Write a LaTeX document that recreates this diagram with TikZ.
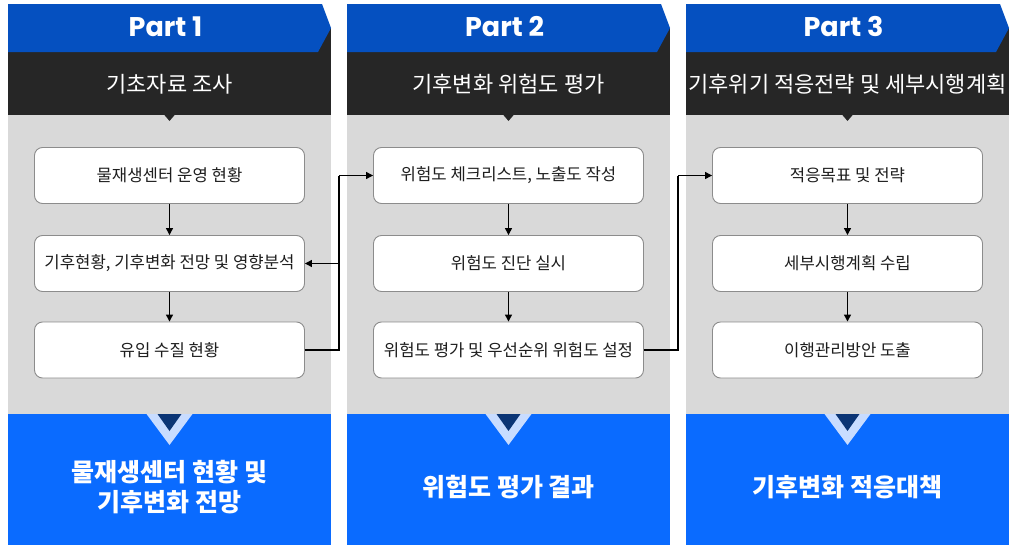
\documentclass[tikz,border=0pt]{standalone}
\usepackage{fontspec}
\setmainfont{Noto Sans CJK KR}
\newfontfamily\partfont{Poppins}
\usetikzlibrary{arrows.meta}
\definecolor{hdrblue}{HTML}{0550C0}
\definecolor{darkband}{HTML}{262626}
\definecolor{graybg}{HTML}{D9D9D9}
\definecolor{botblue}{HTML}{0A6BFF}
\definecolor{lightv}{HTML}{C8DCFF}
\definecolor{navy}{HTML}{0B3575}
\definecolor{boxline}{HTML}{8C8C8C}
\definecolor{txt}{HTML}{1E1E1E}
\tikzset{
  stepbox/.style={draw=boxline, line width=0.9pt, fill=white, rounded corners=8pt,
    minimum width=270pt, minimum height=56pt, inner sep=0pt, font=\fontsize{16.7}{20}\selectfont, text=txt},
  arr/.style={line width=1.2pt, -{Triangle[length=7pt,width=7pt]}},
  conn/.style={line width=1.2pt},
  parttxt/.style={text=white, font=\partfont\bfseries\fontsize{27}{30}\selectfont},
  bandtxt/.style={text=white, font=\fontsize{22}{26}\selectfont},
  bottxt/.style={text=white, font=\bfseries\fontsize{25}{30}\selectfont, align=center},
}
\begin{document}
\begin{tikzpicture}[x=1pt,y=-1pt]
\useasboundingbox (0,0) rectangle (1011,546);
\fill[white] (0,0) rectangle (1011,546);
\foreach \L/\n in {8/1,347/2,686/3}{
  \pgfmathsetmacro{\cx}{\L+161.5}
  \fill[darkband] (\L,28) rectangle ++(323,87);
  \fill[hdrblue] (\L,4) -- ++(314,0) -- ++(9,24) -- ++(-13,24) -- (\L,52) -- cycle;
  \fill[graybg] (\L,115) rectangle ++(323,299);
  \fill[darkband] (\cx-6,114) -- (\cx+6,114) -- (\cx,121) -- cycle;
  \fill[botblue] (\L,414) rectangle ++(323,131);
  \fill[lightv] (\cx-23,414) -- (\cx+23,414) -- (\cx,445) -- cycle;
  \fill[navy] (\cx-12,414) -- (\cx+12,414) -- (\cx,431) -- cycle;
  \node[parttxt] (p\n) at (\cx-4,27) {Part \n};
}
\node[bandtxt] (h1) at (169.5,84) {기초자료 조사};
\node[bandtxt] (h2) at (508.5,84) {기후변화 위험도 평가};
\node[bandtxt] (h3) at (847.5,84) {기후위기 적응전략 및 세부시행계획};

\node[stepbox] (b11) at (169.5,175.5) {물재생센터 운영 현황};
\node[stepbox] (b12) at (169.5,263.5) {기후현황, 기후변화 전망 및 영향분석};
\node[stepbox] (b13) at (169.5,350) {유입 수질 현황};
\node[stepbox] (b21) at (508.5,175.5) {위험도 체크리스트, 노출도 작성};
\node[stepbox] (b22) at (508.5,263.5) {위험도 진단 실시};
\node[stepbox] (b23) at (508.5,350) {위험도 평가 및 우선순위 위험도 설정};
\node[stepbox] (b31) at (847.5,175.5) {적응목표 및 전략};
\node[stepbox] (b32) at (847.5,263.5) {세부시행계획 수립};
\node[stepbox] (b33) at (847.5,350) {이행관리방안 도출};

\draw[arr] (b11) -- (b12);
\draw[arr] (b12) -- (b13);
\draw[arr] (b21) -- (b22);
\draw[arr] (b22) -- (b23);
\draw[arr] (b31) -- (b32);
\draw[arr] (b32) -- (b33);

\coordinate (j1) at (339,0);
\coordinate (j2) at (678,0);
\draw[conn] (b13.east) -- (j1 |- b13.east) -- (j1 |- b21.west);
\draw[arr] (j1 |- b21.west) -- (b21.west);
\draw[arr] (j1 |- b12.east) -- (b12.east);
\draw[conn] (b23.east) -- (j2 |- b23.east) -- (j2 |- b31.west);
\draw[arr] (j2 |- b31.west) -- (b31.west);

\node[bottxt] (r1) at (169.5,487) {물재생센터 현황 및\\기후변화 전망};
\node[bottxt] (r2) at (508.5,487) {위험도 평가 결과};
\node[bottxt] (r3) at (847.5,487) {기후변화 적응대책};
\end{tikzpicture}
\end{document}
